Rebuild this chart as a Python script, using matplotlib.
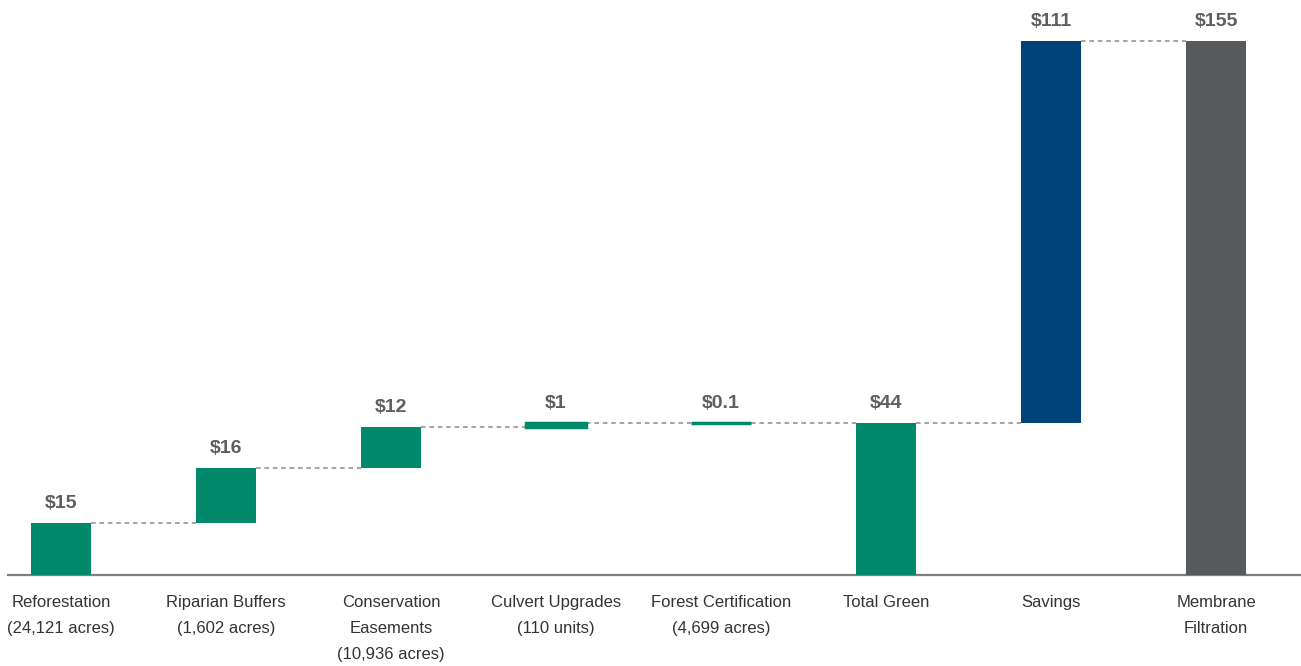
import numpy as np
import matplotlib
matplotlib.use('Agg')
import matplotlib.pyplot as plt

# chart data
categories = ['Reforestation\n(24,121 acres)', 'Riparian Buffers\n(1,602 acres)',
              'Conservation\nEasements\n(10,936 acres)', 'Culvert Upgrades\n(110 units)',
              'Forest Certification\n(4,699 acres)', 'Total Green', 'Savings',
              'Membrane\nFiltration']
values = [15, 16, 12, 1, 0.1, 44, 111, 155]
labels = ['$15', '$16', '$12', '$1', '$0.1', '$44', '$111', '$155']
kinds = ['step', 'step', 'step', 'step', 'step', 'total', 'step', 'total']

green = '#00896a'
navy = '#00427a'
grey = '#58595b'
colors = [green, green, green, green, green, green, navy, grey]

font = ['Liberation Sans', 'DejaVu Sans']

# work out the floating bottoms
bottoms = []
tops = []
running = 0
for v, k in zip(values, kinds):
    if k == 'total':
        bottoms.append(0)
        tops.append(v)
        running = v
    else:
        bottoms.append(running)
        running = running + v
        tops.append(running)

fig = plt.figure(figsize=(13.01, 6.66), dpi=100)
ax = fig.add_axes([8 / 1301, 91 / 666, 1 - 8 / 1301, 575 / 666])

x = np.arange(len(values))
w = 0.364
heights = [t - b for t, b in zip(tops, bottoms)]
# thin bars get an edge so they stay visible, like the original
edge_w = [2.5 if h < 2 else 0 for h in heights]
ax.bar(x, heights, bottom=bottoms, width=w, color=colors,
       edgecolor=colors, linewidth=edge_w, zorder=3)

# dashed connectors between bars
for i in range(len(values) - 1):
    level = tops[i]
    ax.plot([x[i] + w / 2, x[i + 1] - w / 2], [level, level],
            color='#8c8c8c', lw=1.1, ls=(0, (3, 2.5)), zorder=2)

# value labels
for i in range(len(values)):
    ax.annotate(labels[i], (x[i], tops[i]), xytext=(0, 8), textcoords='offset points',
                ha='center', va='bottom', fontsize=14, fontweight='bold',
                color='#5f5f5f', family=font)

ax.set_xlim(-0.321, 7.515)
ax.set_ylim(0, 166.9)
ax.set_xticks(x)
ax.set_xticklabels(categories, family=font, fontsize=12, color='#333333',
                   linespacing=1.92)
ax.tick_params(axis='x', length=0, pad=14.5)
ax.set_yticks([])
for s in ['top', 'right', 'left']:
    ax.spines[s].set_visible(False)
ax.spines['bottom'].set_color('#7f7f7f')
ax.spines['bottom'].set_linewidth(1.6)

fig.savefig('out.png', dpi=100)
